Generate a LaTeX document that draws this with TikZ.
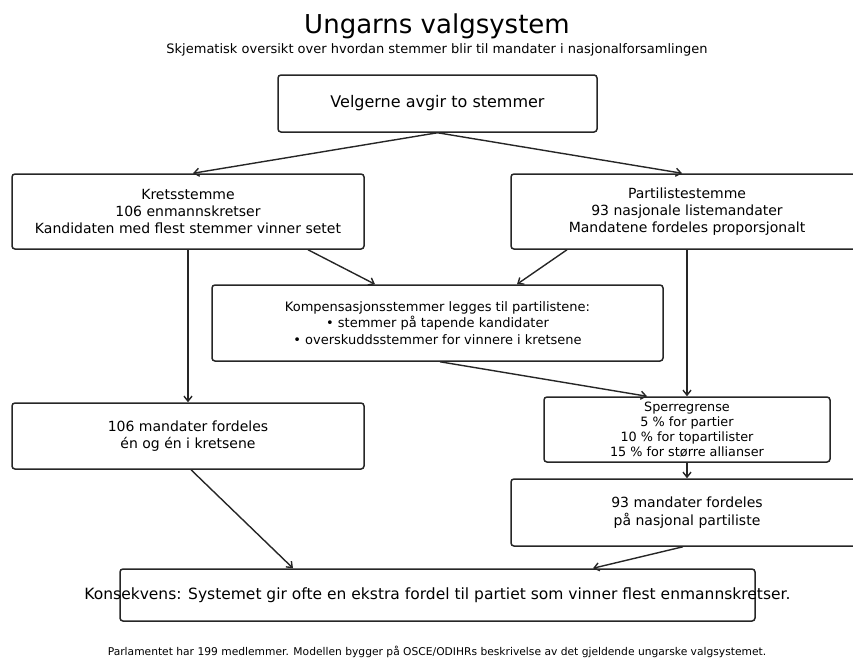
\documentclass[tikz,border=0pt]{standalone}
\usepackage{fontspec}
\setmainfont{DejaVu Sans}
\usetikzlibrary{arrows.meta}
\begin{document}
\begin{tikzpicture}[x=1pt,y=-1pt,
  box/.style={draw=black!85, line width=1.5pt, rounded corners=3pt, align=center, inner sep=0pt, anchor=center},
  arr/.style={draw=black!85, line width=1.4pt, -{Straight Barb[length=5pt,width=8pt]}},
  plain/.style={inner sep=0pt, anchor=center, align=center}]
\useasboundingbox (0,0) rectangle (853,659);
\clip (0,0) rectangle (853,659);
\node[plain, font=\fontsize{26}{30}\selectfont] (title) at (437,26) {Ungarns valgsystem};
\node[plain, font=\fontsize{13}{15}\selectfont] (sub) at (437,50) {Skjematisk oversikt over hvordan stemmer blir til mandater i nasjonalforsamlingen};
\node[box, minimum width=319pt, minimum height=57pt, font=\fontsize{16}{19}\selectfont] (top) at (437.5,103.5) {Velgerne avgir to stemmer};
\node[box, minimum width=352pt, minimum height=75pt, font=\fontsize{14}{17}\selectfont] (kret) at (188,211.5) {Kretsstemme\\106 enmannskretser\\Kandidaten med flest stemmer vinner setet};
\node[box, minimum width=352pt, minimum height=75pt, font=\fontsize{14}{17}\selectfont] (part) at (687,211.5) {Partilistestemme\\93 nasjonale listemandater\\Mandatene fordeles proporsjonalt};
\node[box, minimum width=451pt, minimum height=76pt, font=\fontsize{13}{16.5}\selectfont] (komp) at (437.5,323) {Kompensasjonsstemmer legges til partilistene:\\• stemmer på tapende kandidater\\• overskuddsstemmer for vinnere i kretsene};
\node[box, minimum width=352pt, minimum height=66pt, font=\fontsize{14}{17}\selectfont] (m106) at (188,436) {106 mandater fordeles\\én og én i kretsene};
\node[box, minimum width=286pt, minimum height=65pt, font=\fontsize{12.8}{14.7}\selectfont] (sperr) at (687,429.5) {Sperregrense\\5 \% for partier\\10 \% for topartilister\\15 \% for større allianser};
\node[box, minimum width=352pt, minimum height=67pt, font=\fontsize{14}{18}\selectfont] (m93) at (687,512.5) {93 mandater fordeles\\på nasjonal partiliste};
\node[box, minimum width=635pt, minimum height=52pt] (kons) at (437.5,595) {};
\node[plain, font=\fontsize{15.5}{18}\selectfont] (konstext) at (kons.center) {Konsekvens: Systemet gir ofte en ekstra fordel til partiet som vinner flest enmannskretser.};
\node[plain, font=\fontsize{10.7}{12}\selectfont] (foot) at (437,652) {Parlamentet har 199 medlemmer. Modellen bygger på OSCE/ODIHRs beskrivelse av det gjeldende ungarske valgsystemet.};
\draw[arr] (top.south) -- ([xshift=5pt]kret.north);
\draw[arr] (top.south) -- ([xshift=-5pt]part.north);
\draw[arr] ([xshift=120pt]kret.south) -- ([xshift=-62.5pt]komp.north);
\draw[arr] ([xshift=-120pt]part.south) -- ([xshift=79.5pt]komp.north);
\draw[arr] (kret.south) -- (m106.north);
\draw[arr] (part.south) -- (sperr.north);
\draw[arr] ([xshift=2.5pt]komp.south) -- ([xshift=-40pt]sperr.north);
\draw[arr] (sperr.south) -- (m93.north);
\draw[arr] ([xshift=3pt]m106.south) -- ([xshift=-144.5pt]kons.north);
\draw[arr] ([xshift=-4pt]m93.south) -- ([xshift=155.5pt]kons.north);
\end{tikzpicture}
\end{document}
